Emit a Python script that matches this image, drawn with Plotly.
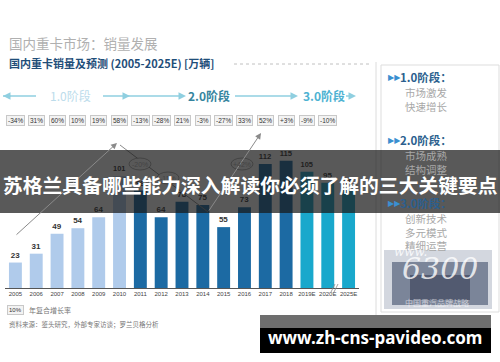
import plotly.graph_objects as go

# ---------------- data ----------------
years = ["2005", "2006", "2007", "2008", "2009", "2010", "2011", "2012", "2013",
         "2014", "2015", "2016", "2017", "2018", "2019E", "2020E", "2025E"]
sales = [23, 31, 49, 54, 64, 101, 88, 64, 78, 75, 55, 73, 112, 115, 105, 95, 89]
growth = ["-34%", "31%", "60%", "10%", "19%", "58%", "-13%", "-28%", "21%", "-3%",
          "-27%", "33%", "52%", "+3%", "-9%", "-10%"]
phase = [1, 1, 1, 1, 1, 1, 2, 2, 2, 2, 2, 2, 2, 2, 3, 3, 3]

title_top = "国内重卡市场：销量发展"
title_chart = "国内重卡销量及预测 (2005-2025E) [万辆]"
banner_text = "苏格兰具备哪些能力深入解读你必须了解的三大关键要点"
site_text = "www.zh-cns-pavideo.com"
legend_text = "年复合增长率"
source_text = "资料来源：鉴头研究，外部专家访谈；罗兰贝格分析"
stages = [("1.0阶段：", ["市场激发", "快速增长"]),
          ("2.0阶段：", ["市场成熟", "结构调整"]),
          ("3.0阶段：", ["创新技术", "多元模式", "精细运营"])]

phase_colors = {1: "#b0cbeb", 2: "#1c6aa3", 3: "#19a8cc"}
CJK = "Noto Sans CJK SC"
LAT = "Liberation Sans, Arial, sans-serif"
NARROW = "Liberation Sans Narrow, Liberation Sans, Arial, sans-serif"

# ---------------- geometry helpers (pixel -> paper) ----------------
W, H = 500, 362
ML, MR, MT, MB = 5, 141, 66, 74
PW, PH = W - ML - MR, H - MT - MB
PX_PER_UNIT = 1.107


def X(px):
    return (px - ML) / PW


def Y(py):
    return (H - MB - py) / PH


def txt(px, py, text, size, color, family=CJK, anchor="center", **kw):
    d = dict(x=X(px), y=Y(py), xref="paper", yref="paper", text=text, showarrow=False,
             xanchor=anchor, yanchor="middle", font=dict(size=size, color=color, family=family))
    d.update(kw)
    return d


def arrow(head, tail, color, width=1.0, size=1.0):
    return dict(x=X(head[0]), y=Y(head[1]), xref="paper", yref="paper",
                ax=tail[0] - head[0], ay=tail[1] - head[1], axref="pixel", ayref="pixel",
                text="", showarrow=True, arrowhead=2, arrowsize=size, arrowwidth=width,
                arrowcolor=color)


fig = go.Figure()
fig.add_trace(go.Bar(
    x=years, y=sales,
    marker=dict(color=[phase_colors[p] for p in phase], line=dict(width=0)),
    text=["<b>%d</b>" % v for v in sales], textposition="outside",
    textfont=dict(size=8, color="#333", family=NARROW),
    cliponaxis=False, width=0.62, hoverinfo="skip",
))

ann = []
shapes = []

# growth rate boxes (x = category index)
for i, g in enumerate(growth):
    ann.append(dict(x=i, xref="x", y=Y(120), yref="paper", text=g, showarrow=False,
                    xanchor="center", yanchor="middle",
                    font=dict(size=6.5, color="#333", family=NARROW),
                    bgcolor="#f3f3f3", bordercolor="#c8c8c8", borderwidth=1, borderpad=1))

# titles
ann.append(txt(7, 43, title_top, 13.5, "#b0b0b0", anchor="left"))
ann.append(txt(7, 63, "<b>" + title_chart + "</b>", 11, "#1f4e79", anchor="left"))
shapes.append(dict(type="line", xref="paper", yref="paper", x0=X(234), x1=X(372), y0=Y(64), y1=Y(64),
                   line=dict(color="#c0c0c0", width=1, dash="dot")))

# stage arrows row
lc = "#8fcfe0"
for x0, x1 in [(3, 36), (103, 184), (235, 296), (346, 354)]:
    shapes.append(dict(type="line", xref="paper", yref="paper", x0=X(x0), x1=X(x1), y0=Y(96), y1=Y(96),
                       line=dict(color=lc, width=1.5)))
ann.append(arrow((3, 96), (12, 96), lc, 1.5))
for xe in [130, 186, 298, 356]:
    ann.append(arrow((xe, 96), (xe - 8, 96), lc, 1.5))
ann.append(txt(70, 96, "1.0阶段", 12, "#bcdceb"))
ann.append(txt(209, 96, "<b>2.0阶段</b>", 12, "#35849e"))
ann.append(txt(324, 96, "<b>3.0阶段</b>", 12, "#4db2d2"))

# trend arrows
tc = "#8a8a8a"
ann.append(arrow((117, 143), (15, 236), tc, 1, 1.2))
shapes.append(dict(type="line", xref="paper", yref="paper", x0=X(120), y0=Y(145), x1=X(208), y1=Y(212),
                   line=dict(color=tc, width=1)))
ann.append(arrow((261, 133), (208, 212), tc, 1, 1.2))
for cx, cy, t in [(140, 164, "-20%"), (168, 178, "-11%"), (242, 164, "+42%")]:
    shapes.append(dict(type="circle", xref="paper", yref="paper", x0=X(cx - 11), x1=X(cx + 11),
                       y0=Y(cy - 6), y1=Y(cy + 6), fillcolor="white", line=dict(color="#999", width=0.8)))
    ann.append(txt(cx, cy, t, 7, "#444", family=NARROW))

# axis break
for dx in (0, 3):
    shapes.append(dict(type="line", xref="paper", yref="paper", x0=X(331 + dx), x1=X(335 + dx),
                       y0=Y(292), y1=Y(284), line=dict(color="#888", width=0.8)))

# legend & source
ann.append(txt(15, 310, "10%", 6, "#333", family=NARROW, bgcolor="#f3f3f3", bordercolor="#c8c8c8",
               borderwidth=1, borderpad=1))
ann.append(txt(27, 310, legend_text, 7, "#777", anchor="left"))
ann.append(txt(7, 324, source_text, 6.5, "#777", anchor="left"))

# right panel
shapes.append(dict(type="line", xref="paper", yref="paper", x0=X(376), x1=X(376), y0=Y(62), y1=Y(320),
                   line=dict(color="#dcdcdc", width=1)))
shapes.append(dict(type="rect", xref="paper", yref="paper", x0=X(381), x1=X(499), y0=Y(65), y1=Y(312),
                   line=dict(color="#dddddd", width=1), fillcolor="rgba(0,0,0,0)"))
sy = [77, 140, 203]
for (head, lines), y0 in zip(stages, sy):
    ann.append(txt(386, y0, "▶▶", 8, "#3a8fd0", family="DejaVu Sans", anchor="left"))
    ann.append(txt(398, y0, "<b>" + head + "</b>", 11.5, "#2b5f8e", anchor="left"))
    for k, ln in enumerate(lines):
        ann.append(txt(403, y0 + 15 + k * 14, ln, 10.5, "#a8a8a8", anchor="left"))

# photo block
shapes.append(dict(type="rect", xref="paper", yref="paper", x0=X(384), x1=X(492), y0=Y(250), y1=Y(309),
                   fillcolor="#d3d7df", line=dict(width=0)))
shapes.append(dict(type="rect", xref="paper", yref="paper", x0=X(392), x1=X(488), y0=Y(262), y1=Y(305),
                   fillcolor="#7b8599", line=dict(width=0)))
shapes.append(dict(type="rect", xref="paper", yref="paper", x0=X(410), x1=X(470), y0=Y(275), y1=Y(300),
                   fillcolor="#525a70", line=dict(width=0)))
ann.append(txt(440, 268, "<i>6300</i>", 30, "rgba(255,255,255,0.8)", family="DejaVu Serif"))
ann.append(txt(410, 252, "<i>www.</i>", 12, "rgba(255,255,255,0.85)", family="DejaVu Serif"))
ann.append(txt(437, 302, "中国重汽品牌战略", 8, "rgba(255,255,255,0.6)"))

# banner overlay
shapes.append(dict(type="rect", xref="paper", yref="paper", x0=X(0), x1=X(500), y0=Y(150), y1=Y(213),
                   fillcolor="rgba(25,25,25,0.72)", line=dict(width=0), layer="above"))
ann.append(txt(250, 184, "<b>" + banner_text + "</b>", 19.8, "white"))

# site box
shapes.append(dict(type="rect", xref="paper", yref="paper", x0=X(260), x1=X(491), y0=Y(315), y1=Y(328),
                   fillcolor="#6e6e6e", line=dict(width=0), layer="above"))
shapes.append(dict(type="rect", xref="paper", yref="paper", x0=X(260), x1=X(491), y0=Y(328), y1=Y(353),
                   fillcolor="#000000", line=dict(width=0), layer="above"))
ann.append(txt(375, 337, "<b>" + site_text + "</b>", 17, "white", family="Noto Sans, DejaVu Sans"))

fig.update_layout(
    width=W, height=H, margin=dict(l=ML, r=MR, t=MT, b=MB),
    paper_bgcolor="white", plot_bgcolor="white", showlegend=False,
    bargap=0.38,
    xaxis=dict(type="category", showline=True, linecolor="#555", linewidth=1, ticks="",
               tickangle=0, tickfont=dict(size=6, color="#444", family=NARROW), showgrid=False,
               zeroline=False, fixedrange=True, range=[-0.5, len(years) - 0.5]),
    yaxis=dict(visible=False, range=[0, PH / PX_PER_UNIT], fixedrange=True),
    annotations=ann, shapes=shapes,
)

fig.write_html("out.html")
